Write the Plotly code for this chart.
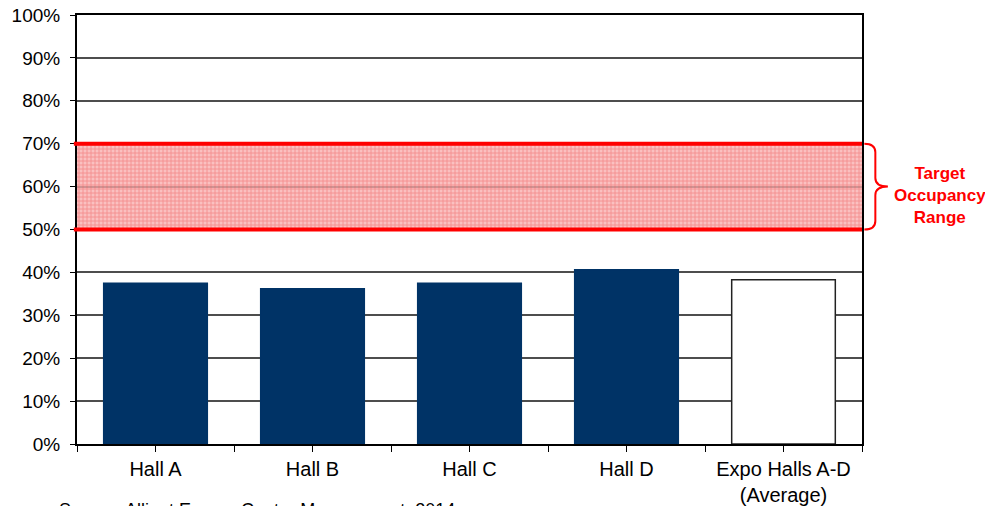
import plotly.graph_objects as go

# Occupancy by exhibition hall
halls = ["Hall A", "Hall B", "Hall C", "Hall D", "Expo Halls A-D<br>(Average)"]
occupancy = [37.5, 36.2, 37.5, 40.6, 38.3]
bar_fill = ["#003366", "#003366", "#003366", "#003366", "#FFFFFF"]
bar_edge = ["#003366", "#003366", "#003366", "#003366", "#222222"]

# Target occupancy band (percent)
target_low = 50
target_high = 70
target_mid = 60

y_ticks = list(range(0, 101, 10))
y_labels = [f"{v}%" for v in y_ticks]

FONT = "Liberation Sans, Arial, sans-serif"
x_pos = list(range(len(halls)))

fig = go.Figure()

# Textured band for the target range
fig.add_trace(go.Scatter(
    x=[-0.5, 4.5, 4.5, -0.5, -0.5],
    y=[target_low, target_low, target_high, target_high, target_low],
    mode="none", fill="toself", fillcolor="rgba(0,0,0,0)",
    fillpattern=dict(shape="+", fgcolor="#EE5A5A", bgcolor="rgba(248,170,170,0.75)",
                     size=4, solidity=0.4),
    hoverinfo="skip", showlegend=False,
))

fig.add_trace(go.Bar(
    x=x_pos, y=occupancy, width=0.66,
    marker=dict(color=bar_fill, line=dict(color=bar_edge, width=1.5)),
    showlegend=False,
))

# Band boundary lines
for v in (target_low, target_high):
    fig.add_shape(type="line", xref="paper", yref="y", x0=-0.004, x1=1.0, y0=v, y1=v,
                  line=dict(color="#FF0000", width=4), layer="above")

# Curly brace next to the band
xa, xb, xc = 1.003, 1.017, 1.033
brace = (f"M {xa},{target_high} Q {xb},{target_high} {xb},{target_high-2} "
         f"L {xb},{target_mid+2} Q {xb},{target_mid} {xc},{target_mid} "
         f"Q {xb},{target_mid} {xb},{target_mid-2} "
         f"L {xb},{target_low+2} Q {xb},{target_low} {xa},{target_low}")
fig.add_shape(type="path", xref="paper", yref="y", path=brace,
              line=dict(color="#FF0000", width=2))

fig.add_annotation(xref="paper", yref="y", x=1.099, y=target_mid, yshift=-9,
                   xanchor="center", yanchor="middle", showarrow=False,
                   text="<b>Target<br>Occupancy<br>Range</b>",
                   font=dict(family=FONT, size=17, color="#FF0000"))

fig.add_annotation(xref="paper", yref="paper", x=-0.025, y=-0.126, xanchor="left",
                   yanchor="top", showarrow=False, align="left",
                   text="Source: Alliant Energy Center Management, 2014",
                   font=dict(family=FONT, size=18, color="#000000"))

fig.update_layout(
    width=985, height=506,
    margin=dict(l=77, r=123, t=15, b=62),
    paper_bgcolor="white", plot_bgcolor="white",
    font=dict(family=FONT, size=20, color="#000000"),
    xaxis=dict(
        range=[-0.5, 4.5], tickvals=x_pos, ticktext=halls, automargin=False,
        ticks="outside", ticklen=6, tickcolor="#000", tickwidth=1,
        minor=dict(tick0=-0.5, dtick=0.5, ticks="outside", ticklen=6,
                   tickcolor="#000", tickwidth=1, showgrid=False),
        showline=True, linecolor="#000", linewidth=2, mirror=True,
        showgrid=False, zeroline=False, fixedrange=True,
    ),
    yaxis=dict(
        range=[0, 100], tickvals=y_ticks, ticktext=y_labels, automargin=False,
        tickfont=dict(size=19),
        ticks="outside", ticklen=5, tickcolor="#000", tickwidth=1,
        ticklabelstandoff=6,
        showline=True, linecolor="#000", linewidth=2, mirror=True,
        showgrid=True, gridcolor="#4D4D4D", gridwidth=1.5,
        zeroline=False, fixedrange=True,
    ),
)

fig.write_html("out.html")
